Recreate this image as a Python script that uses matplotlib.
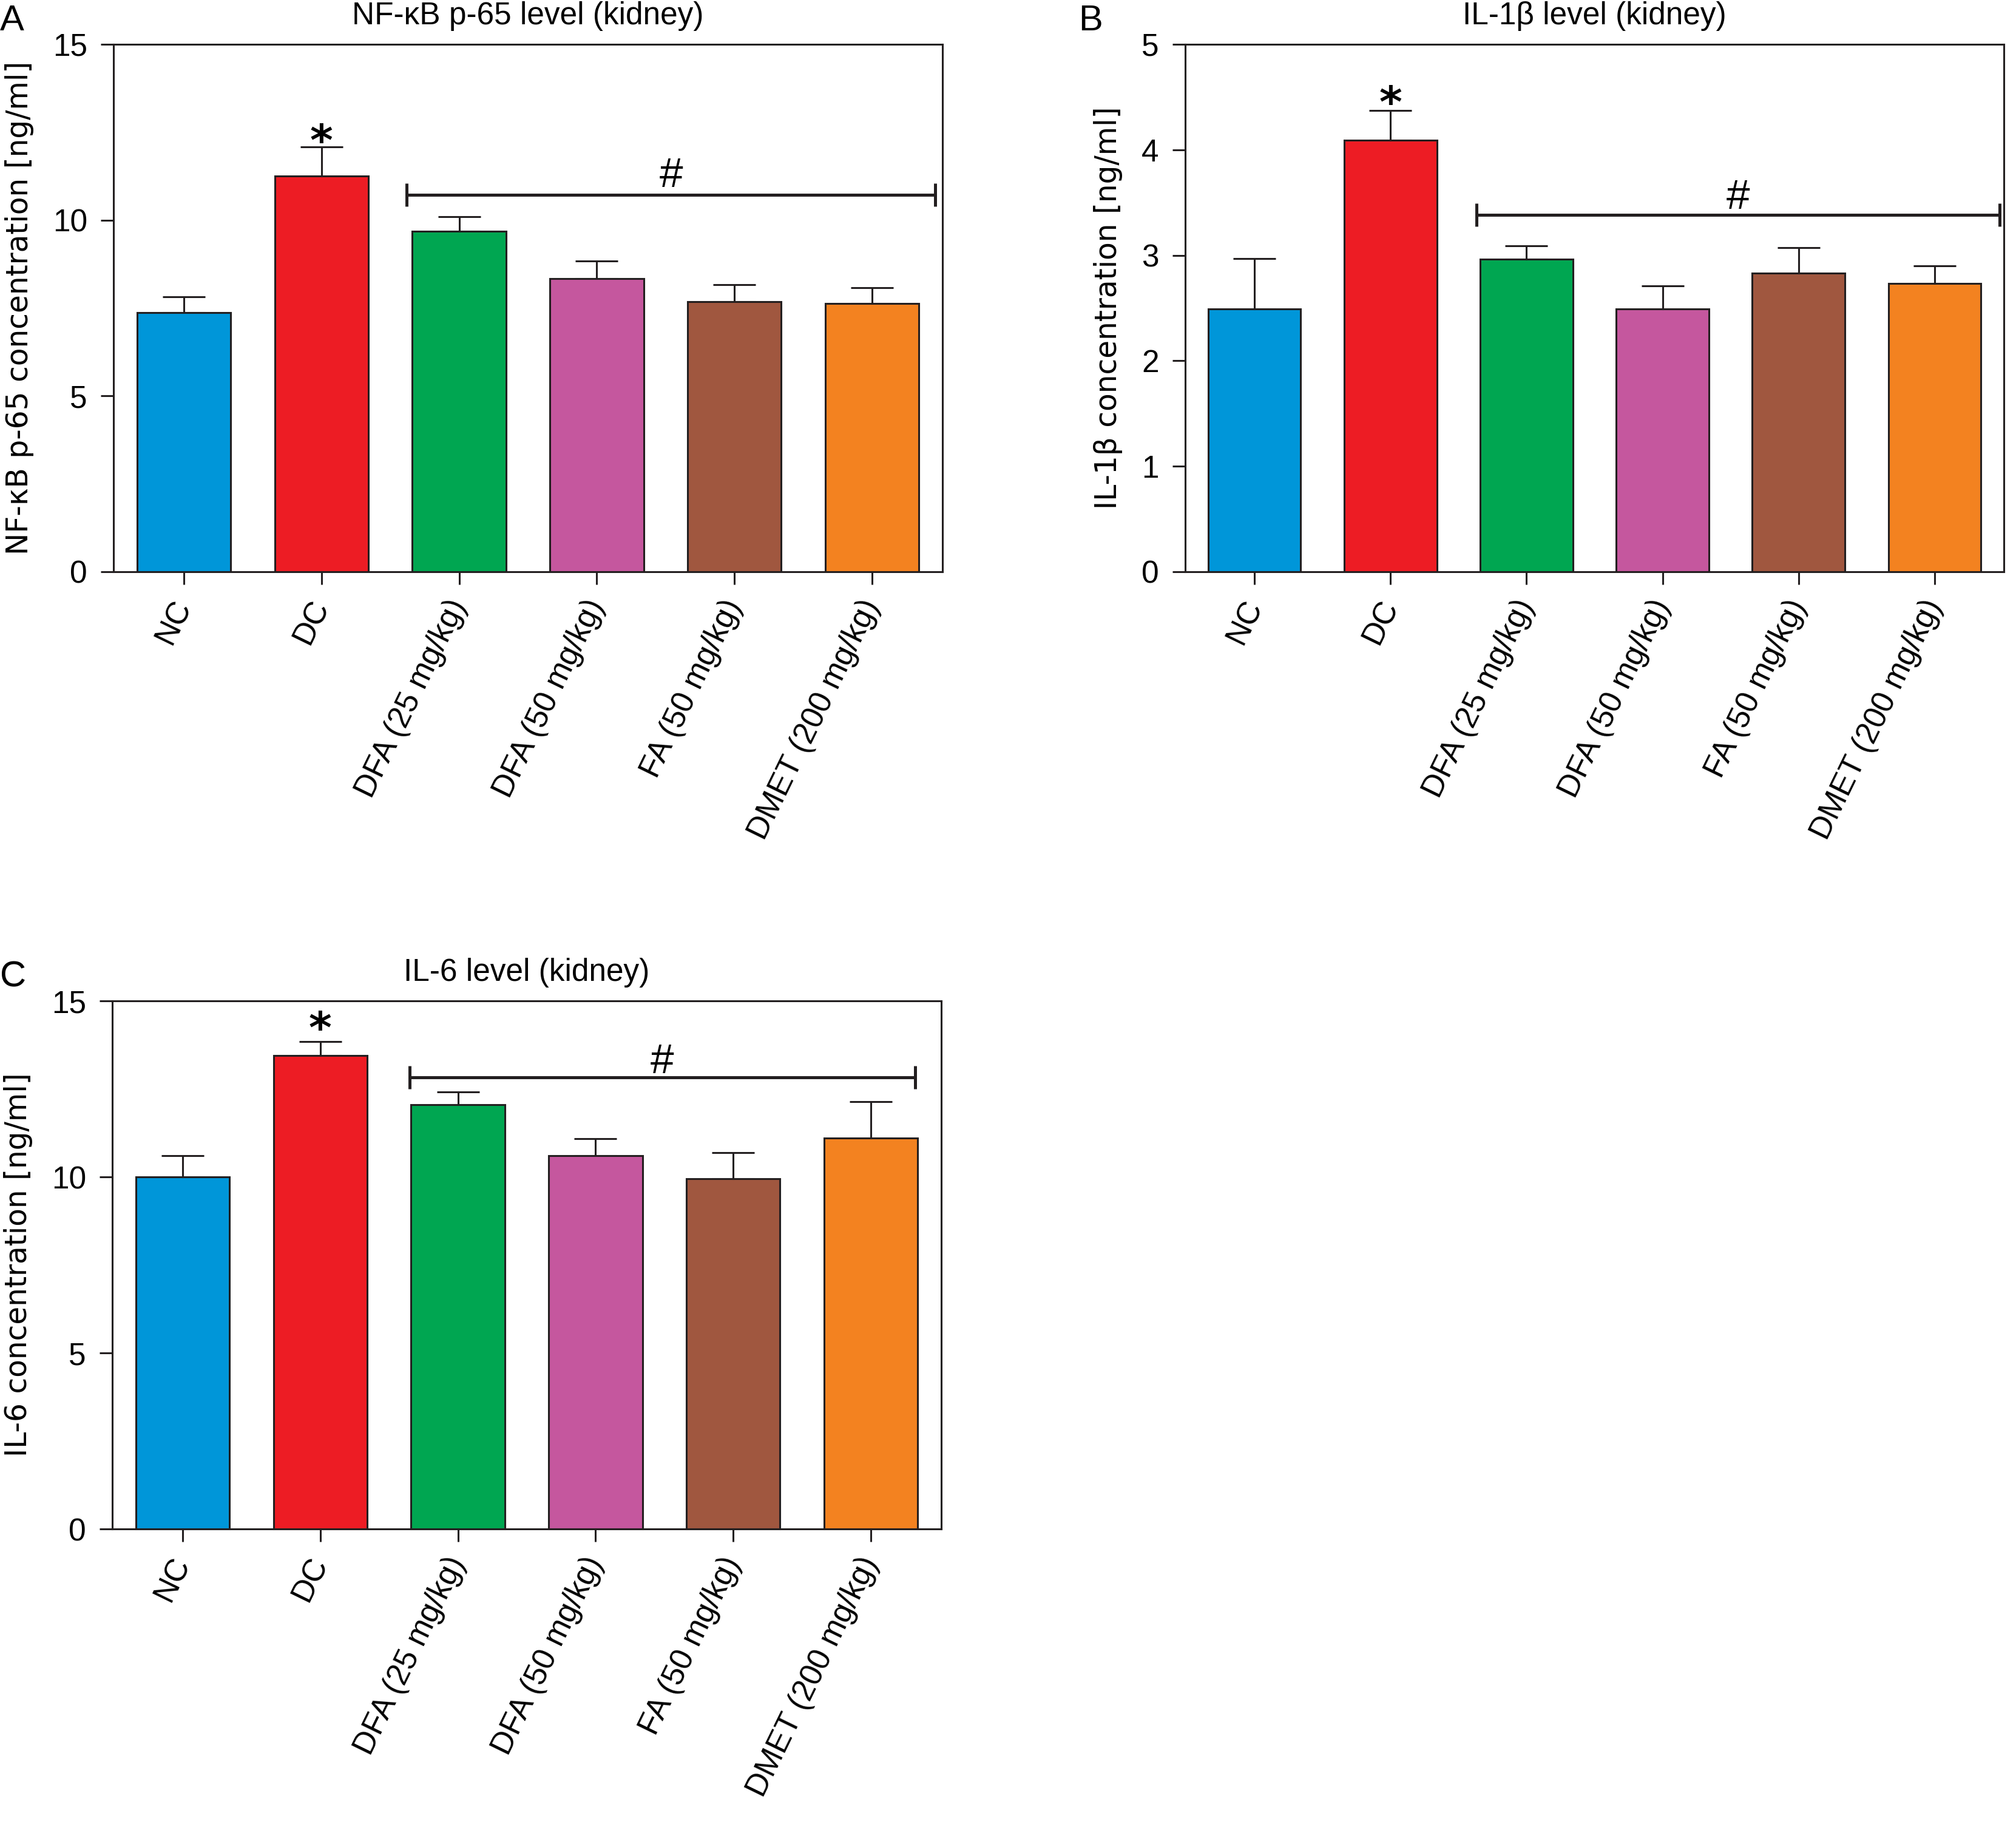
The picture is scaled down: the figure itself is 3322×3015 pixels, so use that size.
import numpy as np
import matplotlib
matplotlib.use('Agg')
import matplotlib.pyplot as plt

plt.rcParams['font.family'] = ['Liberation Sans', 'DejaVu Sans']

# groups and colours
groups = ['NC', 'DC', 'DFA (25 mg/kg)', 'DFA (50 mg/kg)', 'FA (50 mg/kg)', 'DMET (200 mg/kg)']
bar_colors = ['#0096D9', '#ED1C24', '#00A651', '#C5579E', '#A0573F', '#F38220']

# A: NF-kB p-65 (kidney)
nfkb_mean = [7.37, 11.26, 9.68, 8.34, 7.68, 7.62]
nfkb_err = [0.45, 0.82, 0.41, 0.50, 0.49, 0.45]
# B: IL-1beta (kidney)
il1b_mean = [2.49, 4.09, 2.96, 2.49, 2.83, 2.73]
il1b_err = [0.48, 0.28, 0.13, 0.22, 0.24, 0.17]
# C: IL-6 (kidney)
il6_mean = [10.0, 13.45, 12.05, 10.61, 9.95, 11.11]
il6_err = [0.60, 0.39, 0.36, 0.48, 0.74, 1.03]

edge = '#231F20'


def panel(ax, means, errs, ymax, ystep, title, ylabel, br_x, br_y, star_y, hash_y):
    x = np.arange(len(groups))
    ax.errorbar(x, means, yerr=[np.zeros(len(x)), errs], fmt='none', ecolor=edge,
                elinewidth=1.1, capsize=12.6, capthick=1.1, zorder=1)
    ax.bar(x, means, width=0.68, color=bar_colors, edgecolor=edge, linewidth=1.1, zorder=2)
    ax.set_xlim(-0.51, 5.51)
    ax.set_ylim(0, ymax)
    ax.set_yticks(np.arange(0, ymax + 0.01, ystep))
    ax.set_xticks(x)
    ax.set_xticklabels(groups)
    plt.setp(ax.get_xticklabels(), rotation=64, ha='right', va='center',
             rotation_mode='anchor', fontsize=19)
    for s in ax.spines.values():
        s.set_linewidth(1.1)
        s.set_color(edge)
    ax.tick_params(direction='out', length=7.6, width=1.1, color=edge, labelsize=18.5)
    ax.tick_params(axis='x', pad=10)
    ax.tick_params(axis='y', pad=8)
    ax.set_title(title, fontsize=18.5, pad=12)
    ax.set_ylabel(ylabel, fontsize=17.5, family='DejaVu Sans', labelpad=11)
    # significance marks
    ax.plot(br_x, [br_y, br_y], color=edge, lw=1.8, marker='|', markersize=13.7, mew=1.8)
    ax.text(np.mean(br_x), hash_y, '#', fontsize=25, ha='center', va='baseline')
    ax.text(1, star_y, '*', fontsize=26, fontweight='bold', family='DejaVu Sans',
            ha='center', va='baseline')


fig = plt.figure(figsize=(16.615, 15.075), dpi=200)
axA = fig.add_axes([0.0563, 0.6876, 0.411, 0.2882])
axB = fig.add_axes([0.5877, 0.6876, 0.406, 0.2882])
axC = fig.add_axes([0.0557, 0.1645, 0.411, 0.2885])

panel(axA, nfkb_mean, nfkb_err, 15, 5, 'NF-\u03baB p-65 level (kidney)',
      'NF-\u03baB p-65 concentration [ng/ml]', [1.62, 5.46], 10.72, 11.84, 10.94)
panel(axB, il1b_mean, il1b_err, 5, 1, 'IL-1\u03b2 level (kidney)',
      'IL-1\u03b2 concentration [ng/ml]', [1.63, 5.48], 3.38, 4.31, 3.44)
panel(axC, il6_mean, il6_err, 15, 5, 'IL-6 level (kidney)',
      'IL-6 concentration [ng/ml]', [1.65, 5.32], 12.83, 13.81, 12.95)

fig.text(0.0, 0.9834, 'A', fontsize=21.5, ha='left', va='baseline')
fig.text(0.5348, 0.9834, 'B', fontsize=21.5, ha='left', va='baseline')
fig.text(0.0, 0.4610, 'C', fontsize=21.5, ha='left', va='baseline')

fig.savefig('out.png', dpi=200, facecolor='white')
